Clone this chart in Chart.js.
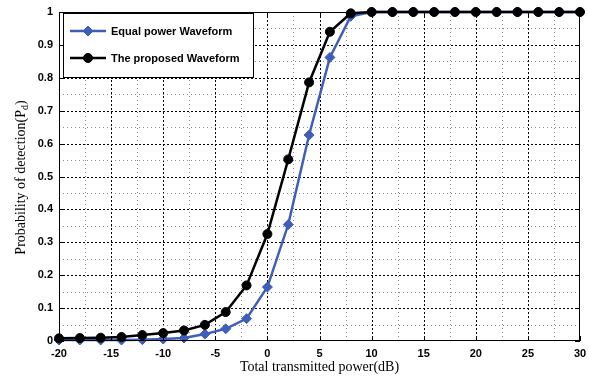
<!DOCTYPE html>
<html><head><meta charset="utf-8">
<script src="https://cdn.jsdelivr.net/npm/chart.js@4.4.1/dist/chart.umd.min.js"></script>
<style>html,body{margin:0;padding:0;background:#fff}canvas{display:block}</style>
</head><body>
<canvas id="c" width="589" height="379"></canvas>
<script>
const powerDb = [-20,-18,-16,-14,-12,-10,-8,-6,-4,-2,0,2,4,6,8,10,12,14,16,18,20,22,24,26,28,30];
const equalPower = [0.003,0.003,0.003,0.003,0.004,0.006,0.009,0.021,0.037,0.068,0.164,0.354,0.626,0.862,0.987,1,1,1,1,1,1,1,1,1,1,1];
const proposed = [0.008,0.009,0.010,0.012,0.018,0.024,0.032,0.049,0.088,0.169,0.325,0.552,0.786,0.940,0.996,1,1,1,1,1,1,1,1,1,1,1];
const seriesNames = ['Equal power Waveform', 'The proposed Waveform'];
const xTitle = 'Total transmitted power(dB)';
const yTitleParts = ['Probability of detection(P', 'd', ')'];

const BLUE = '#3F5EB8';
const BLACK = '#000000';
const tickFont = {family: '"Liberation Sans", Arial, sans-serif', size: 11, weight: 'bold'};

const decor = {
  id: 'decor',
  beforeDatasetsDraw(chart) {
    const {ctx, chartArea: a, scales: {x, y}} = chart;
    ctx.save();
    ctx.lineWidth = 1;
    x.ticks.forEach(t => {
      const px = Math.round(x.getPixelForValue(t.value)) + 0.5;
      if (px <= a.left + 1 || px >= a.right - 1) return;
      const major = Math.abs(t.value % 5) < 1e-6;
      ctx.strokeStyle = major ? '#000' : '#8a8a8a';
      ctx.setLineDash(major ? [2, 2] : [1, 3]);
      ctx.beginPath(); ctx.moveTo(px, a.top); ctx.lineTo(px, a.bottom); ctx.stroke();
    });
    y.ticks.forEach(t => {
      const py = Math.round(y.getPixelForValue(t.value)) + 0.5;
      if (py <= a.top + 1 || py >= a.bottom - 1) return;
      const major = Math.round(t.value * 100) % 10 === 0;
      ctx.strokeStyle = major ? '#000' : '#8a8a8a';
      ctx.setLineDash(major ? [2, 2] : [1, 3]);
      ctx.beginPath(); ctx.moveTo(a.left, py); ctx.lineTo(a.right, py); ctx.stroke();
    });
    ctx.setLineDash([]);
    ctx.restore();
  },
  afterDraw(chart) {
    const {ctx, chartArea: a, scales: {x, y}} = chart;
    ctx.save();
    // frame
    ctx.strokeStyle = '#000';
    ctx.lineWidth = 1;
    ctx.strokeRect(Math.round(a.left) + 0.5, Math.round(a.top) + 0.5, Math.round(a.right - a.left) - 1, Math.round(a.bottom - a.top) - 1);
    // inward ticks
    x.ticks.forEach(t => {
      if (Math.abs(t.value % 5) > 1e-6) return;
      const px = Math.round(x.getPixelForValue(t.value)) + 0.5;
      ctx.beginPath();
      ctx.moveTo(px, a.bottom); ctx.lineTo(px, a.bottom - 5);
      ctx.moveTo(px, a.top); ctx.lineTo(px, a.top + 5);
      ctx.stroke();
    });
    y.ticks.forEach(t => {
      if (Math.round(t.value * 100) % 10 !== 0) return;
      const py = Math.round(y.getPixelForValue(t.value)) + 0.5;
      ctx.beginPath();
      ctx.moveTo(a.left, py); ctx.lineTo(a.left + 5, py);
      ctx.moveTo(a.right, py); ctx.lineTo(a.right - 5, py);
      ctx.stroke();
    });
    // axis titles
    const big = '14px "Liberation Serif", "Times New Roman", serif';
    const small = '10px "Liberation Serif", "Times New Roman", serif';
    ctx.fillStyle = '#000';
    ctx.font = big;
    ctx.textAlign = 'center';
    ctx.textBaseline = 'middle';
    ctx.fillText(xTitle, (a.left + a.right) / 2, 367);
    ctx.save();
    const cy = (a.top + a.bottom) / 2 + 1;
    ctx.translate(21, cy);
    ctx.rotate(-Math.PI / 2);
    ctx.textAlign = 'left';
    ctx.font = big; const w1 = ctx.measureText(yTitleParts[0]).width; const w3 = ctx.measureText(yTitleParts[2]).width;
    ctx.font = small; const w2 = ctx.measureText(yTitleParts[1]).width;
    let sx = -(w1 + w2 + w3) / 2;
    ctx.font = big; ctx.fillText(yTitleParts[0], sx, 0); sx += w1;
    ctx.font = small; ctx.fillText(yTitleParts[1], sx, 4); sx += w2;
    ctx.font = big; ctx.fillText(yTitleParts[2], sx, 0);
    ctx.restore();
    // legend
    const lx = 63, ly = 13, lw = 190, lh = 64;
    ctx.fillStyle = '#fff';
    ctx.fillRect(lx, ly, lw, lh);
    ctx.strokeStyle = '#000';
    ctx.lineWidth = 1;
    ctx.strokeRect(lx + 0.5, ly + 0.5, lw, lh);
    const rows = [31, 58];
    chart.data.datasets.forEach((ds, i) => {
      const ry = rows[i];
      ctx.strokeStyle = ds.borderColor;
      ctx.lineWidth = ds.borderWidth;
      ctx.beginPath(); ctx.moveTo(70, ry); ctx.lineTo(106, ry); ctx.stroke();
      ctx.fillStyle = ds.backgroundColor;
      ctx.strokeStyle = ds.borderColor;
      ctx.lineWidth = 1;
      Chart.helpers.drawPoint(ctx, {pointStyle: ds.pointStyle, radius: ds.pointRadius, borderWidth: 1}, 88, ry);
      ctx.fillStyle = '#000';
      ctx.font = 'bold 11px "Liberation Sans", Arial, sans-serif';
      ctx.textAlign = 'left';
      ctx.textBaseline = 'middle';
      ctx.fillText(ds.label, 111, ry + 1);
    });
    ctx.restore();
  }
};

new Chart(document.getElementById('c').getContext('2d'), {
  type: 'line',
  data: {
    datasets: [
      {
        label: seriesNames[0],
        data: powerDb.map((v, i) => ({x: v, y: equalPower[i]})),
        borderColor: BLUE, backgroundColor: BLUE,
        borderWidth: 2.5, pointStyle: 'rectRot', pointRadius: 5,
        pointBorderColor: BLUE, pointBackgroundColor: BLUE, pointBorderWidth: 1,
        order: 2, clip: false, tension: 0
      },
      {
        label: seriesNames[1],
        data: powerDb.map((v, i) => ({x: v, y: proposed[i]})),
        borderColor: BLACK, backgroundColor: BLACK,
        borderWidth: 2.5, pointStyle: 'circle', pointRadius: 4.5,
        pointBorderColor: BLACK, pointBackgroundColor: BLACK, pointBorderWidth: 1,
        order: 1, clip: false, tension: 0
      }
    ]
  },
  options: {
    responsive: false,
    animation: false,
    devicePixelRatio: 1,
    layout: {padding: {top: 12, right: 9, left: 0, bottom: 0}},
    plugins: {legend: {display: false}, tooltip: {enabled: false}},
    scales: {
      x: {
        type: 'linear', min: -20, max: 30,
        grid: {display: false, drawTicks: false},
        border: {display: false},
        ticks: {
          stepSize: 2.5, autoSkip: false, maxRotation: 0, padding: 6,
          font: tickFont, color: '#000',
          callback: v => (Math.abs(v % 5) < 1e-6 ? String(Math.round(v)) : '')
        },
        afterFit(s) { s.height = 38; s.paddingLeft = 0; s.paddingRight = 0; }
      },
      y: {
        type: 'linear', min: 0, max: 1,
        grid: {display: false, drawTicks: false},
        border: {display: false},
        ticks: {
          stepSize: 0.05, autoSkip: false, padding: 6,
          font: tickFont, color: '#000',
          callback: v => { const r = Math.round(v * 100); return r % 10 === 0 ? String(r / 100) : ''; }
        },
        afterFit(s) { s.width = 59; s.paddingTop = 0; s.paddingBottom = 0; }
      }
    }
  },
  plugins: [decor]
});
</script>
</body></html>
